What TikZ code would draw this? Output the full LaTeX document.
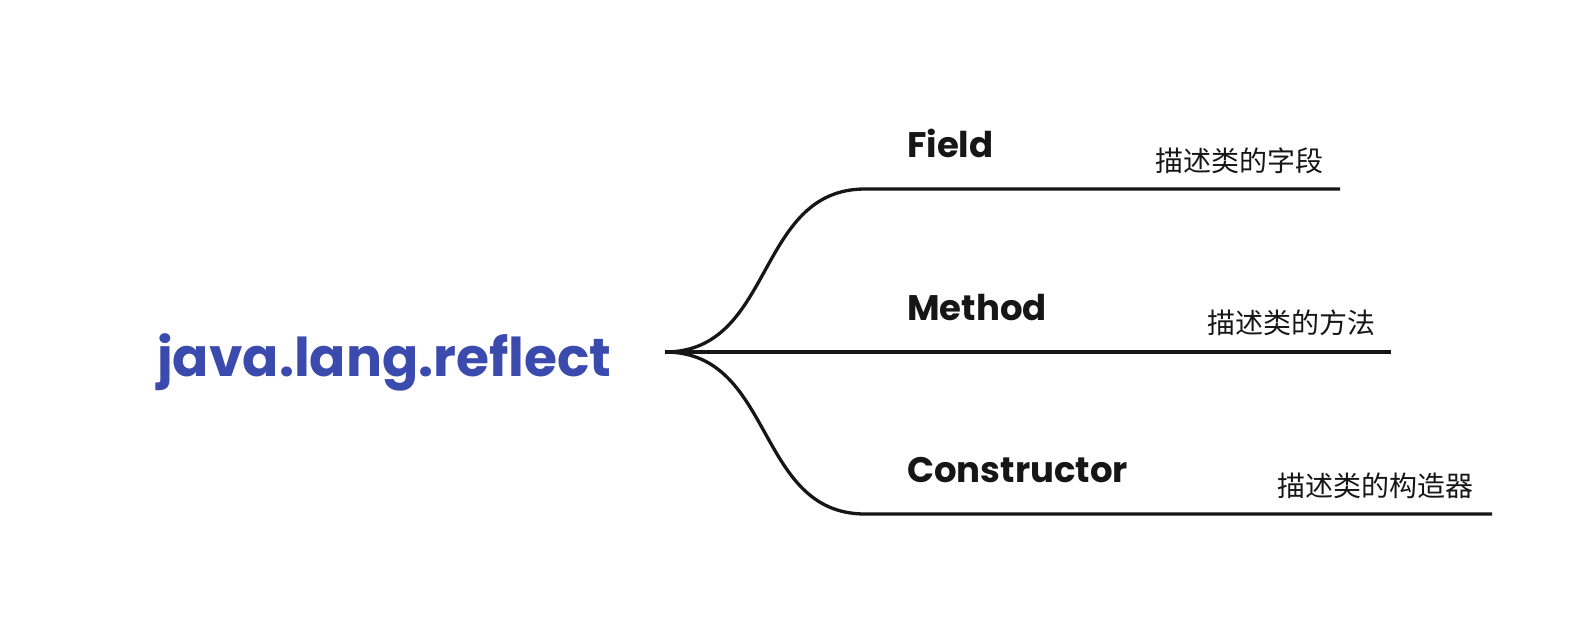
\documentclass[tikz,border=0pt]{standalone}
\usepackage{fontspec}
\newfontfamily\brfont{Poppins}
\newfontfamily\cjk{Noto Sans CJK SC}
\usetikzlibrary{positioning}
\definecolor{rootblue}{HTML}{3A4BAD}
\definecolor{inkline}{HTML}{161616}

\begin{document}
\begin{tikzpicture}[
        x=1pt, y=-1pt,
        root/.style={font=\brfont\bfseries\fontsize{53.5}{60}\selectfont,
            text=rootblue, inner sep=0pt, anchor=base west},
        branch/.style={font=\brfont\bfseries\fontsize{35.5}{43}\selectfont,
            text=inkline, inner sep=0pt},
        note/.style={font=\cjk\fontsize{28}{34}\selectfont,
            text=inkline, inner sep=0pt},
        link/.style={draw=inkline, line width=3.3pt},
    ]
    \useasboundingbox (0,0) rectangle (1592,616);

    % 1. Root
    \node[root] (root) at (157,376) {java.lang.reflect};
    \coordinate (hub) at (665,352);

    % 2. Branch ends
    \coordinate (fieldStart) at (865,189);
    \coordinate (fieldEnd) at (1340,189);
    \coordinate (methodEnd) at (1391,352);
    \coordinate (ctorStart) at (865,514);
    \coordinate (ctorEnd) at (1492,514);

    % 3. Labels
    \node[branch, above right=32pt and 42pt of fieldStart, anchor=base west]
        (field) {Field};
    \node[branch, anchor=base west] at (907,320) (method) {Method};
    \node[branch, above right=32pt and 42pt of ctorStart, anchor=base west]
        (ctor) {Constructor};
    \node[note, above left=15pt and 16pt of fieldEnd] (fieldNote)
        {描述类的字段};
    \node[note, above left=16pt and 15pt of methodEnd] (methodNote)
        {描述类的方法};
    \node[note, above left=15pt and 18pt of ctorEnd] (ctorNote)
        {描述类的构造器};

    % --- Branches ---
    \draw[link] (hub) .. controls +(110,0) and +(-110,0) .. (fieldStart)
        -- (fieldEnd);
    \draw[link] (hub) -- (methodEnd);
    \draw[link] (hub) .. controls +(110,0) and +(-110,0) .. (ctorStart)
        -- (ctorEnd);

\end{tikzpicture}
\end{document}
